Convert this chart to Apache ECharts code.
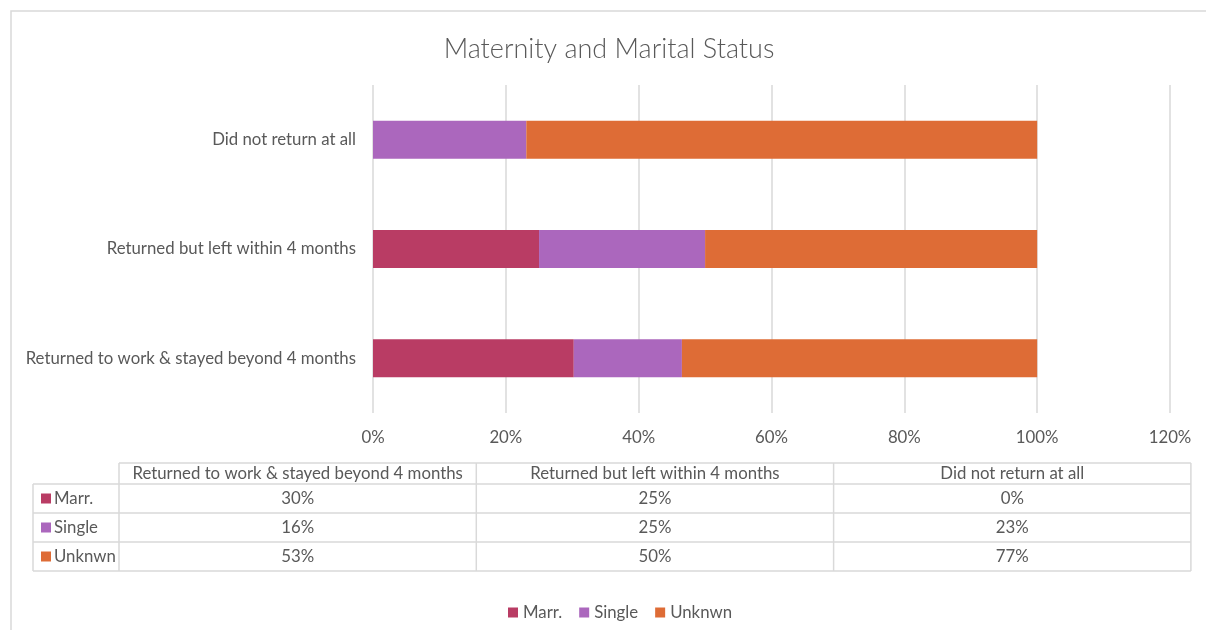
<!DOCTYPE html>
<html>
<head>
<meta charset="utf-8">
<title>Maternity and Marital Status</title>
<script src="https://cdn.jsdelivr.net/npm/echarts@6/dist/echarts.min.js"></script>
<style>
  html, body { margin: 0; padding: 0; background: #ffffff; }
  #chart { width: 1206px; height: 630px; }
</style>
</head>
<body>
<div id="chart"></div>
<script>
// Outcome after maternity leave, share of each group by marital status (%)
const categories = [
  'Returned to work & stayed beyond 4 months',
  'Returned but left within 4 months',
  'Did not return at all'
];
const seriesNames = ['Marr.', 'Single', 'Unknwn'];
const married = [30.23, 25, 0];
const single = [16.28, 25, 23.08];
const unknown = [53.49, 50, 76.92];
const axisTicks = [0, 20, 40, 60, 80, 100, 120];

const colors = ['#B93C64', '#AB67BD', '#DE6C36'];
const textColor = '#595959';
const lineColor = '#D9D9D9';
const font = 'Lato, "Open Sans", sans-serif';
const fontSize = 16.8;

const seriesValues = [married, single, unknown];
const pct = v => Math.round(v) + '%';

const chart = echarts.init(document.getElementById('chart'), null, { renderer: 'canvas' });

// Data table under the value axis: header row + one row per series
const table = {
  left: 33, keyCol: 119, colWidth: 357.3,
  headerTop: 463, headerH: 21, rowH: 29
};
const graphics = [];
const tableRight = table.keyCol + table.colWidth * categories.length;
const tableBottom = table.headerTop + table.headerH + table.rowH * seriesNames.length;
const line = (x1, y1, x2, y2) => ({
  type: 'line', silent: true,
  shape: { x1, y1, x2, y2 },
  style: { stroke: lineColor, lineWidth: 1.5 }
});
// chart area frame
graphics.push({
  type: 'rect', silent: true,
  shape: { x: 11, y: 11, width: 1300, height: 700 },
  style: { fill: 'none', stroke: lineColor, lineWidth: 1.5 }
});
// horizontal rules
graphics.push(line(table.keyCol, table.headerTop, tableRight, table.headerTop));
for (let r = 0; r <= seriesNames.length; r++) {
  const y = table.headerTop + table.headerH + r * table.rowH;
  graphics.push(line(table.left, y, tableRight, y));
}
// vertical rules
graphics.push(line(table.left, table.headerTop + table.headerH, table.left, tableBottom));
for (let c = 0; c <= categories.length; c++) {
  const x = table.keyCol + c * table.colWidth;
  graphics.push(line(x, table.headerTop, x, tableBottom));
}
// header texts
categories.forEach((cat, c) => {
  graphics.push({
    type: 'text', silent: true,
    x: table.keyCol + (c + 0.5) * table.colWidth,
    y: table.headerTop + table.headerH / 2,
    style: {
      text: cat, fill: textColor, font: fontSize + 'px ' + font,
      align: 'center', verticalAlign: 'middle'
    }
  });
});
// rows: legend key, name, values
seriesNames.forEach((name, r) => {
  const cy = table.headerTop + table.headerH + (r + 0.5) * table.rowH;
  graphics.push({
    type: 'rect', silent: true,
    shape: { x: 41, y: cy - 5, width: 10, height: 10 },
    style: { fill: colors[r] }
  });
  graphics.push({
    type: 'text', silent: true,
    x: 54, y: cy,
    style: {
      text: name, fill: textColor, font: fontSize + 'px ' + font,
      align: 'left', verticalAlign: 'middle'
    }
  });
  seriesValues[r].forEach((v, c) => {
    graphics.push({
      type: 'text', silent: true,
      x: table.keyCol + (c + 0.5) * table.colWidth,
      y: cy,
      style: {
        text: pct(v), fill: textColor, font: fontSize + 'px ' + font,
        align: 'center', verticalAlign: 'middle'
      }
    });
  });
});

chart.setOption({
  animation: false,
  backgroundColor: '#ffffff',
  color: colors,
  textStyle: { fontFamily: font },
  title: {
    text: 'Maternity and Marital Status',
    left: 604, top: 31, textAlign: 'center',
    textStyle: { color: textColor, fontSize: 27, fontWeight: 300, fontFamily: font }
  },
  legend: {
    data: seriesNames,
    left: 503, top: 599,
    icon: 'rect', itemWidth: 10, itemHeight: 10, itemGap: 17,
    textStyle: { color: textColor, fontSize: fontSize, fontFamily: font }
  },
  grid: { left: 373, right: 36, top: 85, height: 328, containLabel: false },
  xAxis: {
    type: 'value',
    min: axisTicks[0], max: axisTicks[axisTicks.length - 1], interval: 20,
    axisLine: { show: false }, axisTick: { show: false },
    splitLine: { lineStyle: { color: lineColor, width: 1.5 } },
    axisLabel: { formatter: '{value}%', color: textColor, fontSize: fontSize, margin: 16 }
  },
  yAxis: {
    type: 'category',
    data: categories,
    axisLine: { show: false }, axisTick: { show: false },
    axisLabel: { color: textColor, fontSize: fontSize, margin: 17 }
  },
  series: seriesNames.map((name, i) => ({
    name, type: 'bar', stack: 'total', barWidth: 38,
    data: seriesValues[i],
    itemStyle: { color: colors[i] }
  })),
  graphic: graphics
});
</script>
</body>
</html>
